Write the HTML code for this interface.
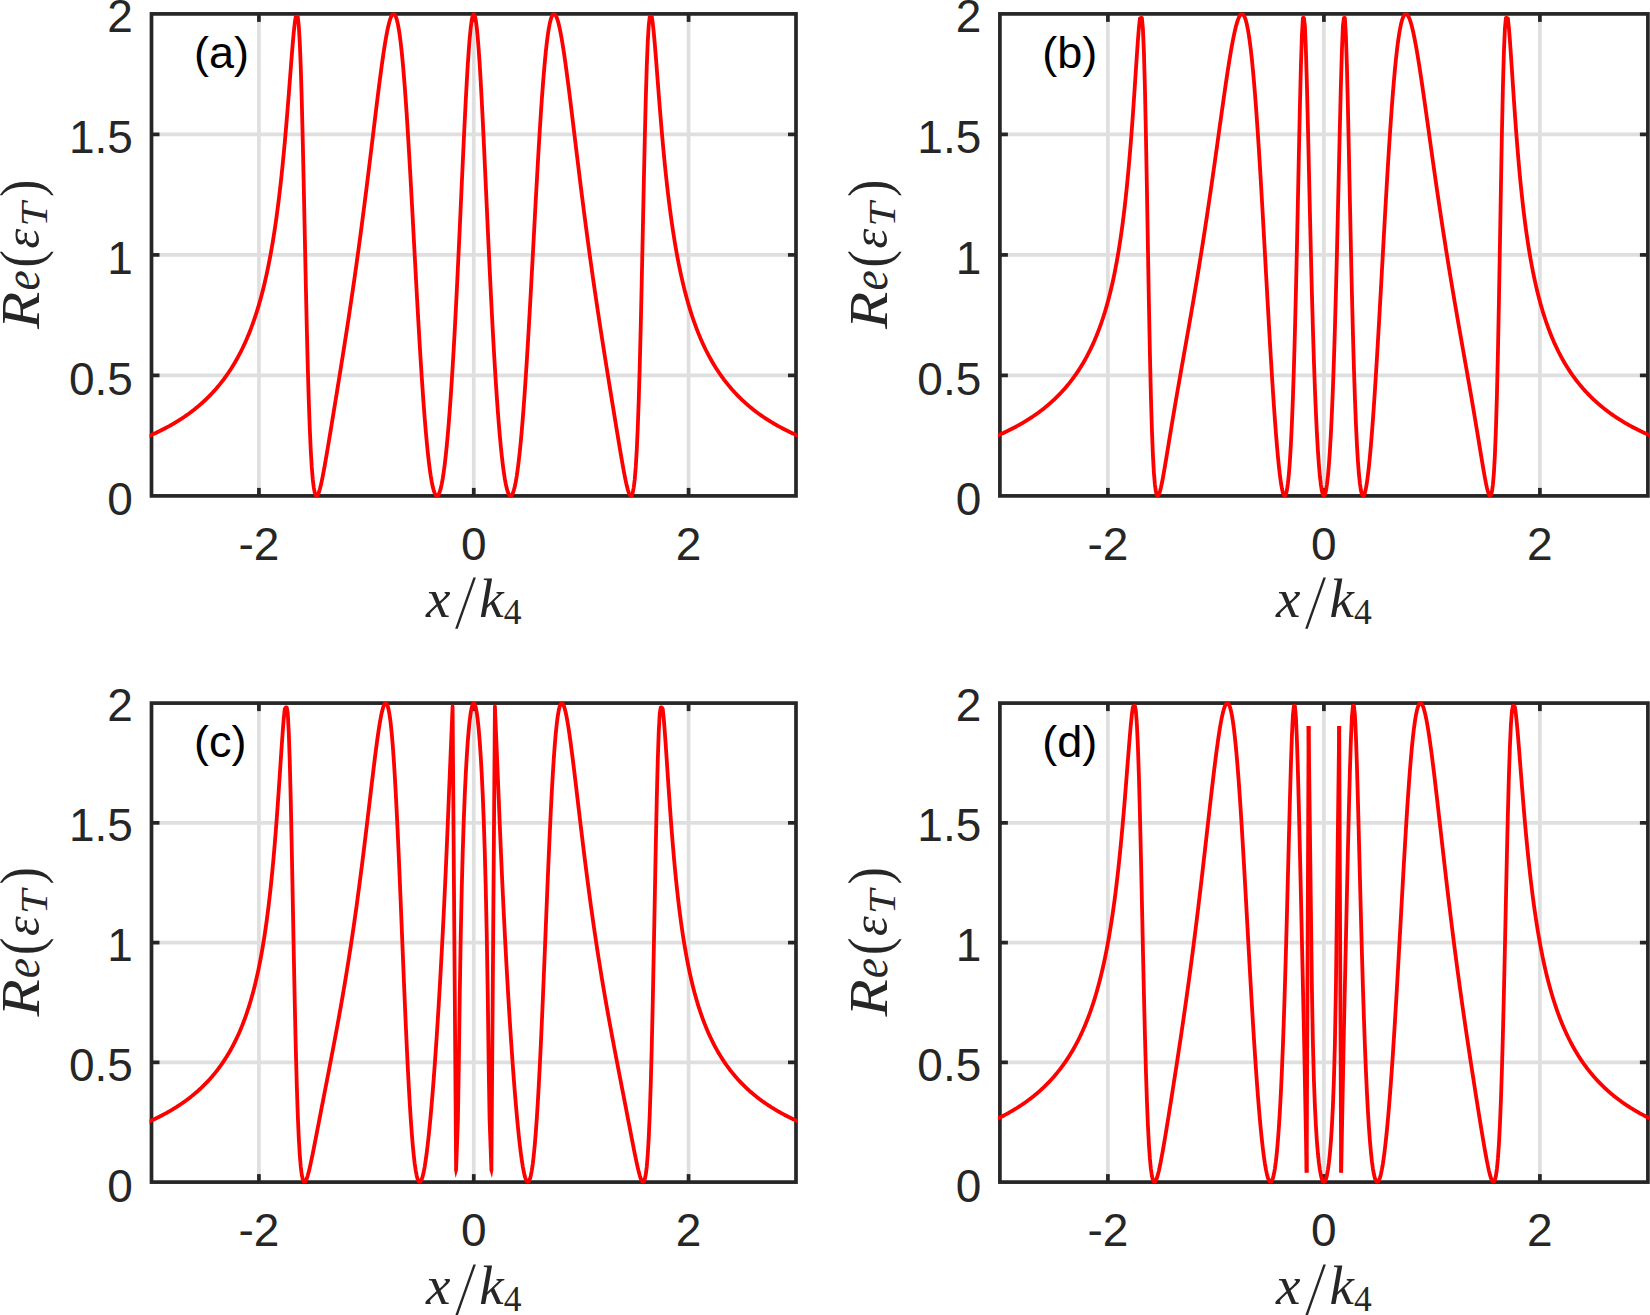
<!DOCTYPE html><html><head><meta charset="utf-8"><title>Figure</title><style>
html,body{margin:0;padding:0;background:#fff}
svg{display:block}
.grid{stroke:#dfdfdf;stroke-width:3.7;fill:none}
.ax{stroke:#262626;stroke-width:3.7;fill:none}
.box{stroke:#262626;stroke-width:3.7;fill:none}
.curve{stroke:#ff0000;stroke-width:3.8;fill:none;stroke-linejoin:round;stroke-linecap:butt}
.nib{fill:#ff0000;stroke:none}
.tk{font-family:"Liberation Sans",sans-serif;font-size:46px;fill:#262626}
.pl{font-family:"Liberation Sans",sans-serif;font-size:45px;fill:#000}
.mi{font-family:"Liberation Serif",serif;font-style:italic;font-size:55px;fill:#262626}
.mr{font-family:"Liberation Serif",serif;font-size:52px;fill:#262626}
</style></head><body>
<svg width="1650" height="1315" viewBox="0 0 1650 1315">
<rect width="1650" height="1315" fill="#fff"/>
<g id="panel-a">
<line x1="258.92" y1="13.90" x2="258.92" y2="495.90" class="grid"/>
<line x1="473.75" y1="13.90" x2="473.75" y2="495.90" class="grid"/>
<line x1="688.58" y1="13.90" x2="688.58" y2="495.90" class="grid"/>
<line x1="151.50" y1="375.40" x2="796.00" y2="375.40" class="grid"/>
<line x1="151.50" y1="254.90" x2="796.00" y2="254.90" class="grid"/>
<line x1="151.50" y1="134.40" x2="796.00" y2="134.40" class="grid"/>
<line x1="258.92" y1="495.90" x2="258.92" y2="487.90" class="ax"/>
<line x1="258.92" y1="13.90" x2="258.92" y2="21.90" class="ax"/>
<line x1="473.75" y1="495.90" x2="473.75" y2="487.90" class="ax"/>
<line x1="473.75" y1="13.90" x2="473.75" y2="21.90" class="ax"/>
<line x1="688.58" y1="495.90" x2="688.58" y2="487.90" class="ax"/>
<line x1="688.58" y1="13.90" x2="688.58" y2="21.90" class="ax"/>
<line x1="151.50" y1="375.40" x2="159.50" y2="375.40" class="ax"/>
<line x1="796.00" y1="375.40" x2="788.00" y2="375.40" class="ax"/>
<line x1="151.50" y1="254.90" x2="159.50" y2="254.90" class="ax"/>
<line x1="796.00" y1="254.90" x2="788.00" y2="254.90" class="ax"/>
<line x1="151.50" y1="134.40" x2="159.50" y2="134.40" class="ax"/>
<line x1="796.00" y1="134.40" x2="788.00" y2="134.40" class="ax"/>
<rect x="151.50" y="13.90" width="644.50" height="482.00" class="box"/>
<clipPath id="clipa"><rect x="149.50" y="12.40" width="648.50" height="485.00"/></clipPath>
<g clip-path="url(#clipa)">
<polyline points="147.75,436.53 148.75,436.10 149.75,435.66 150.75,435.23 151.75,434.78 152.75,434.33 153.75,433.88 154.75,433.42 155.75,432.96 156.75,432.48 157.75,432.01 158.75,431.53 159.75,431.04 160.75,430.54 161.75,430.04 162.75,429.54 163.75,429.02 164.75,428.50 165.75,427.98 166.75,427.44 167.75,426.90 168.75,426.36 169.75,425.80 170.75,425.24 171.75,424.67 172.75,424.10 173.75,423.51 174.75,422.92 175.75,422.32 176.75,421.71 177.75,421.10 178.75,420.47 179.75,419.84 180.75,419.19 181.75,418.54 182.75,417.88 183.75,417.21 184.75,416.53 185.75,415.84 186.75,415.14 187.75,414.43 188.75,413.71 189.75,412.98 190.75,412.23 191.75,411.48 192.75,410.71 193.75,409.94 194.75,409.15 195.75,408.34 196.75,407.53 197.75,406.70 198.75,405.86 199.75,405.01 200.75,404.14 201.75,403.25 202.75,402.36 203.75,401.44 204.75,400.51 205.75,399.57 206.75,398.61 207.75,397.63 208.75,396.64 209.75,395.63 210.75,394.60 211.75,393.55 212.75,392.48 213.75,391.39 214.75,390.28 215.75,389.16 216.75,388.01 217.75,386.83 218.75,385.64 219.75,384.42 220.75,383.18 221.75,381.91 222.75,380.62 223.75,379.30 224.75,377.95 225.75,376.57 226.75,375.17 227.75,373.73 228.75,372.27 229.75,370.77 230.75,369.23 231.75,367.67 232.75,366.06 233.75,364.42 234.75,362.74 235.75,361.02 236.75,359.26 237.75,357.46 238.75,355.61 239.75,353.71 240.75,351.76 241.75,349.76 242.75,347.71 243.75,345.61 244.75,343.45 245.75,341.22 246.75,338.94 247.75,336.58 248.75,334.16 249.75,331.67 250.75,329.10 251.75,326.45 252.75,323.72 253.75,320.90 254.75,317.98 255.75,314.97 256.75,311.86 257.75,308.64 258.75,305.31 259.75,301.85 260.75,298.27 261.75,294.55 262.75,290.69 263.75,286.68 264.75,282.51 265.75,278.17 266.75,273.64 267.75,268.92 268.75,264.00 269.75,258.85 270.75,253.48 271.75,247.85 272.75,241.95 273.75,235.77 274.75,229.28 275.75,222.46 276.75,215.30 277.75,207.76 278.75,199.83 279.75,191.47 280.75,182.67 281.75,173.40 282.75,163.64 283.75,153.37 284.75,142.58 285.75,131.28 286.75,119.47 287.75,107.20 288.75,94.53 289.75,81.60 290.75,68.59 291.75,55.76 292.75,43.52 293.75,32.39 294.75,23.10 295.75,16.57 296.75,16.55 297.75,16.55 298.75,25.37 299.75,41.94 300.75,66.81 301.75,99.90 302.75,140.18 303.75,185.64 304.75,233.61 305.75,281.21 306.75,325.92 307.75,365.87 308.75,400.01 309.75,428.03 310.75,450.16 311.75,466.96 312.75,479.16 313.75,487.49 314.75,492.66 315.75,495.28 316.75,495.88 317.75,494.89 318.75,492.66 319.75,489.47 320.75,485.54 321.75,481.04 322.75,476.11 323.75,470.86 324.75,465.36 325.75,459.68 326.75,453.86 327.75,447.95 328.75,441.97 329.75,435.93 330.75,429.86 331.75,423.77 332.75,417.66 333.75,411.53 334.75,405.39 335.75,399.25 336.75,393.08 337.75,386.91 338.75,380.72 339.75,374.51 340.75,368.28 341.75,362.02 342.75,355.73 343.75,349.41 344.75,343.05 345.75,336.64 346.75,330.19 347.75,323.69 348.75,317.13 349.75,310.51 350.75,303.83 351.75,297.08 352.75,290.26 353.75,283.37 354.75,276.40 355.75,269.35 356.75,262.22 357.75,255.00 358.75,247.70 359.75,240.31 360.75,232.84 361.75,225.27 362.75,217.62 363.75,209.88 364.75,202.07 365.75,194.17 366.75,186.19 367.75,178.15 368.75,170.04 369.75,161.88 370.75,153.67 371.75,145.43 372.75,137.18 373.75,128.91 374.75,120.67 375.75,112.46 376.75,104.31 377.75,96.24 378.75,88.29 379.75,80.49 380.75,72.88 381.75,65.49 382.75,58.37 383.75,51.56 384.75,45.13 385.75,39.12 386.75,33.59 387.75,28.61 388.75,24.23 389.75,20.54 390.75,17.59 391.75,15.46 392.75,14.21 393.75,13.92 394.75,14.64 395.75,16.45 396.75,19.38 397.75,23.49 398.75,28.82 399.75,35.38 400.75,43.20 401.75,52.27 402.75,62.57 403.75,74.08 404.75,86.74 405.75,100.48 406.75,115.24 407.75,130.91 408.75,147.39 409.75,164.56 410.75,182.29 411.75,200.45 412.75,218.91 413.75,237.53 414.75,256.17 415.75,274.70 416.75,293.00 417.75,310.95 418.75,328.43 419.75,345.36 420.75,361.63 421.75,377.17 422.75,391.91 423.75,405.80 424.75,418.78 425.75,430.82 426.75,441.88 427.75,451.94 428.75,460.98 429.75,468.99 430.75,475.96 431.75,481.89 432.75,486.78 433.75,490.62 434.75,493.41 435.75,495.17 436.75,495.88 437.75,495.56 438.75,494.20 439.75,491.80 440.75,488.37 441.75,483.90 442.75,478.38 443.75,471.82 444.75,464.21 445.75,455.54 446.75,445.81 447.75,435.02 448.75,423.15 449.75,410.23 450.75,396.25 451.75,381.21 452.75,365.15 453.75,348.10 454.75,330.08 455.75,311.16 456.75,291.42 457.75,270.94 458.75,249.85 459.75,228.29 460.75,206.43 461.75,184.46 462.75,162.63 463.75,141.18 464.75,120.41 465.75,100.61 466.75,82.11 467.75,65.23 468.75,50.29 469.75,37.60 470.75,27.41 471.75,19.96 472.75,15.43 473.75,13.90 474.75,15.43 475.75,19.96 476.75,27.41 477.75,37.60 478.75,50.29 479.75,65.23 480.75,82.11 481.75,100.61 482.75,120.41 483.75,141.18 484.75,162.63 485.75,184.46 486.75,206.43 487.75,228.29 488.75,249.85 489.75,270.94 490.75,291.42 491.75,311.16 492.75,330.08 493.75,348.10 494.75,365.15 495.75,381.21 496.75,396.25 497.75,410.23 498.75,423.15 499.75,435.02 500.75,445.81 501.75,455.54 502.75,464.21 503.75,471.82 504.75,478.38 505.75,483.90 506.75,488.37 507.75,491.80 508.75,494.20 509.75,495.56 510.75,495.88 511.75,495.17 512.75,493.41 513.75,490.62 514.75,486.78 515.75,481.89 516.75,475.96 517.75,468.99 518.75,460.98 519.75,451.94 520.75,441.88 521.75,430.82 522.75,418.78 523.75,405.80 524.75,391.91 525.75,377.17 526.75,361.63 527.75,345.36 528.75,328.43 529.75,310.95 530.75,293.00 531.75,274.70 532.75,256.17 533.75,237.53 534.75,218.91 535.75,200.45 536.75,182.29 537.75,164.56 538.75,147.39 539.75,130.91 540.75,115.24 541.75,100.48 542.75,86.74 543.75,74.08 544.75,62.57 545.75,52.27 546.75,43.20 547.75,35.38 548.75,28.82 549.75,23.49 550.75,19.38 551.75,16.45 552.75,14.64 553.75,13.92 554.75,14.21 555.75,15.46 556.75,17.59 557.75,20.54 558.75,24.23 559.75,28.61 560.75,33.59 561.75,39.12 562.75,45.13 563.75,51.56 564.75,58.37 565.75,65.49 566.75,72.88 567.75,80.49 568.75,88.29 569.75,96.24 570.75,104.31 571.75,112.46 572.75,120.67 573.75,128.91 574.75,137.18 575.75,145.43 576.75,153.67 577.75,161.88 578.75,170.04 579.75,178.15 580.75,186.19 581.75,194.17 582.75,202.07 583.75,209.88 584.75,217.62 585.75,225.27 586.75,232.84 587.75,240.31 588.75,247.70 589.75,255.00 590.75,262.22 591.75,269.35 592.75,276.40 593.75,283.37 594.75,290.26 595.75,297.08 596.75,303.83 597.75,310.51 598.75,317.13 599.75,323.69 600.75,330.19 601.75,336.64 602.75,343.05 603.75,349.41 604.75,355.73 605.75,362.02 606.75,368.28 607.75,374.51 608.75,380.72 609.75,386.91 610.75,393.08 611.75,399.25 612.75,405.39 613.75,411.53 614.75,417.66 615.75,423.77 616.75,429.86 617.75,435.93 618.75,441.97 619.75,447.95 620.75,453.86 621.75,459.68 622.75,465.36 623.75,470.86 624.75,476.11 625.75,481.04 626.75,485.54 627.75,489.47 628.75,492.66 629.75,494.89 630.75,495.88 631.75,495.28 632.75,492.66 633.75,487.49 634.75,479.16 635.75,466.96 636.75,450.16 637.75,428.03 638.75,400.01 639.75,365.87 640.75,325.92 641.75,281.21 642.75,233.61 643.75,185.64 644.75,140.18 645.75,99.90 646.75,66.81 647.75,41.94 648.75,25.37 649.75,16.55 650.75,16.55 651.75,16.57 652.75,23.10 653.75,32.39 654.75,43.52 655.75,55.76 656.75,68.59 657.75,81.60 658.75,94.53 659.75,107.20 660.75,119.47 661.75,131.28 662.75,142.58 663.75,153.37 664.75,163.64 665.75,173.40 666.75,182.67 667.75,191.47 668.75,199.83 669.75,207.76 670.75,215.30 671.75,222.46 672.75,229.28 673.75,235.77 674.75,241.95 675.75,247.85 676.75,253.48 677.75,258.85 678.75,264.00 679.75,268.92 680.75,273.64 681.75,278.17 682.75,282.51 683.75,286.68 684.75,290.69 685.75,294.55 686.75,298.27 687.75,301.85 688.75,305.31 689.75,308.64 690.75,311.86 691.75,314.97 692.75,317.98 693.75,320.90 694.75,323.72 695.75,326.45 696.75,329.10 697.75,331.67 698.75,334.16 699.75,336.58 700.75,338.94 701.75,341.22 702.75,343.45 703.75,345.61 704.75,347.71 705.75,349.76 706.75,351.76 707.75,353.71 708.75,355.61 709.75,357.46 710.75,359.26 711.75,361.02 712.75,362.74 713.75,364.42 714.75,366.06 715.75,367.67 716.75,369.23 717.75,370.77 718.75,372.27 719.75,373.73 720.75,375.17 721.75,376.57 722.75,377.95 723.75,379.30 724.75,380.62 725.75,381.91 726.75,383.18 727.75,384.42 728.75,385.64 729.75,386.83 730.75,388.01 731.75,389.16 732.75,390.28 733.75,391.39 734.75,392.48 735.75,393.55 736.75,394.60 737.75,395.63 738.75,396.64 739.75,397.63 740.75,398.61 741.75,399.57 742.75,400.51 743.75,401.44 744.75,402.36 745.75,403.25 746.75,404.14 747.75,405.01 748.75,405.86 749.75,406.70 750.75,407.53 751.75,408.34 752.75,409.15 753.75,409.94 754.75,410.71 755.75,411.48 756.75,412.23 757.75,412.98 758.75,413.71 759.75,414.43 760.75,415.14 761.75,415.84 762.75,416.53 763.75,417.21 764.75,417.88 765.75,418.54 766.75,419.19 767.75,419.84 768.75,420.47 769.75,421.10 770.75,421.71 771.75,422.32 772.75,422.92 773.75,423.51 774.75,424.10 775.75,424.67 776.75,425.24 777.75,425.80 778.75,426.36 779.75,426.90 780.75,427.44 781.75,427.98 782.75,428.50 783.75,429.02 784.75,429.54 785.75,430.04 786.75,430.54 787.75,431.04 788.75,431.53 789.75,432.01 790.75,432.48 791.75,432.96 792.75,433.42 793.75,433.88 794.75,434.33 795.75,434.78 796.75,435.23 797.75,435.66 798.75,436.10 799.75,436.53" class="curve"/>
</g>
<text x="258.92" y="560.20" class="tk" text-anchor="middle">-2</text>
<text x="473.75" y="560.20" class="tk" text-anchor="middle">0</text>
<text x="688.58" y="560.20" class="tk" text-anchor="middle">2</text>
<text x="132.90" y="515.40" class="tk" text-anchor="end">0</text>
<text x="132.90" y="394.50" class="tk" text-anchor="end">0.5</text>
<text x="132.90" y="273.60" class="tk" text-anchor="end">1</text>
<text x="132.90" y="152.70" class="tk" text-anchor="end">1.5</text>
<text x="132.90" y="31.80" class="tk" text-anchor="end">2</text>
<text x="193.90" y="67.50" class="pl">(a)</text>
<text x="425.95" y="617.30" class="mi">x</text>
<text transform="translate(455.15,628.40) skewX(-7) scale(1,1.476)" class="mr">/</text>
<text x="479.25" y="617.30" class="mi">k</text>
<text x="503.75" y="624.30" class="mr" style="font-size:35.5px">4</text>
<g transform="translate(39.00,254.90) rotate(-90)"><text transform="translate(-74,0) scale(1.11,1)" class="mi">R</text><text transform="translate(-35.7,0) scale(0.9,1)" class="mi" style="font-size:50.5px">e</text><text transform="translate(-12.5,1.5) scale(1,1.15)" class="mr">(</text><text x="6.5" y="0" class="mi" style="font-size:50px">ε</text><text transform="translate(28.5,8) scale(1.17,1.03)" class="mi" style="font-size:37px">T</text><text transform="translate(58,1.5) scale(1,1.15)" class="mr">)</text></g>
</g>
<g id="panel-b">
<line x1="1107.90" y1="13.90" x2="1107.90" y2="495.90" class="grid"/>
<line x1="1323.90" y1="13.90" x2="1323.90" y2="495.90" class="grid"/>
<line x1="1539.90" y1="13.90" x2="1539.90" y2="495.90" class="grid"/>
<line x1="999.90" y1="375.40" x2="1647.90" y2="375.40" class="grid"/>
<line x1="999.90" y1="254.90" x2="1647.90" y2="254.90" class="grid"/>
<line x1="999.90" y1="134.40" x2="1647.90" y2="134.40" class="grid"/>
<line x1="1107.90" y1="495.90" x2="1107.90" y2="487.90" class="ax"/>
<line x1="1107.90" y1="13.90" x2="1107.90" y2="21.90" class="ax"/>
<line x1="1323.90" y1="495.90" x2="1323.90" y2="487.90" class="ax"/>
<line x1="1323.90" y1="13.90" x2="1323.90" y2="21.90" class="ax"/>
<line x1="1539.90" y1="495.90" x2="1539.90" y2="487.90" class="ax"/>
<line x1="1539.90" y1="13.90" x2="1539.90" y2="21.90" class="ax"/>
<line x1="999.90" y1="375.40" x2="1007.90" y2="375.40" class="ax"/>
<line x1="1647.90" y1="375.40" x2="1639.90" y2="375.40" class="ax"/>
<line x1="999.90" y1="254.90" x2="1007.90" y2="254.90" class="ax"/>
<line x1="1647.90" y1="254.90" x2="1639.90" y2="254.90" class="ax"/>
<line x1="999.90" y1="134.40" x2="1007.90" y2="134.40" class="ax"/>
<line x1="1647.90" y1="134.40" x2="1639.90" y2="134.40" class="ax"/>
<rect x="999.90" y="13.90" width="648.00" height="482.00" class="box"/>
<clipPath id="clipb"><rect x="997.90" y="12.40" width="652.00" height="485.00"/></clipPath>
<g clip-path="url(#clipb)">
<polyline points="995.90,436.22 996.90,435.79 997.90,435.37 998.90,434.93 999.90,434.49 1000.90,434.05 1001.90,433.60 1002.90,433.15 1003.90,432.69 1004.90,432.22 1005.90,431.75 1006.90,431.27 1007.90,430.79 1008.90,430.30 1009.90,429.81 1010.90,429.31 1011.90,428.80 1012.90,428.28 1013.90,427.77 1014.90,427.24 1015.90,426.71 1016.90,426.17 1017.90,425.62 1018.90,425.06 1019.90,424.50 1020.90,423.93 1021.90,423.36 1022.90,422.77 1023.90,422.18 1024.90,421.58 1025.90,420.97 1026.90,420.36 1027.90,419.73 1028.90,419.10 1029.90,418.46 1030.90,417.81 1031.90,417.14 1032.90,416.47 1033.90,415.79 1034.90,415.11 1035.90,414.41 1036.90,413.69 1037.90,412.97 1038.90,412.24 1039.90,411.50 1040.90,410.75 1041.90,409.98 1042.90,409.20 1043.90,408.41 1044.90,407.61 1045.90,406.80 1046.90,405.97 1047.90,405.13 1048.90,404.27 1049.90,403.40 1050.90,402.52 1051.90,401.62 1052.90,400.71 1053.90,399.78 1054.90,398.83 1055.90,397.87 1056.90,396.89 1057.90,395.90 1058.90,394.88 1059.90,393.85 1060.90,392.80 1061.90,391.73 1062.90,390.64 1063.90,389.53 1064.90,388.39 1065.90,387.24 1066.90,386.06 1067.90,384.86 1068.90,383.64 1069.90,382.39 1070.90,381.11 1071.90,379.81 1072.90,378.48 1073.90,377.12 1074.90,375.73 1075.90,374.31 1076.90,372.86 1077.90,371.38 1078.90,369.86 1079.90,368.31 1080.90,366.72 1081.90,365.09 1082.90,363.42 1083.90,361.71 1084.90,359.96 1085.90,358.16 1086.90,356.32 1087.90,354.42 1088.90,352.48 1089.90,350.48 1090.90,348.43 1091.90,346.32 1092.90,344.14 1093.90,341.91 1094.90,339.60 1095.90,337.22 1096.90,334.77 1097.90,332.24 1098.90,329.63 1099.90,326.93 1100.90,324.14 1101.90,321.25 1102.90,318.26 1103.90,315.16 1104.90,311.94 1105.90,308.59 1106.90,305.12 1107.90,301.51 1108.90,297.74 1109.90,293.82 1110.90,289.72 1111.90,285.45 1112.90,280.97 1113.90,276.29 1114.90,271.38 1115.90,266.22 1116.90,260.80 1117.90,255.10 1118.90,249.08 1119.90,242.74 1120.90,236.03 1121.90,228.93 1122.90,221.40 1123.90,213.41 1124.90,204.92 1125.90,195.89 1126.90,186.28 1127.90,176.03 1128.90,165.13 1129.90,153.51 1130.90,141.17 1131.90,128.08 1132.90,114.28 1133.90,99.82 1134.90,84.86 1135.90,69.64 1136.90,54.59 1137.90,40.34 1138.90,27.86 1139.90,18.49 1140.90,18.00 1141.90,18.00 1142.90,28.59 1143.90,51.87 1144.90,87.29 1145.90,133.84 1146.90,188.40 1147.90,246.34 1148.90,302.67 1149.90,353.34 1150.90,395.92 1151.90,429.63 1152.90,454.90 1153.90,472.81 1154.90,484.68 1155.90,491.76 1156.90,495.18 1157.90,495.85 1158.90,494.48 1159.90,491.62 1160.90,487.69 1161.90,483.00 1162.90,477.78 1163.90,472.19 1164.90,466.37 1165.90,460.39 1166.90,454.33 1167.90,448.24 1168.90,442.13 1169.90,436.04 1170.90,429.98 1171.90,423.96 1172.90,417.99 1173.90,412.06 1174.90,406.17 1175.90,400.33 1176.90,394.53 1177.90,388.77 1178.90,383.03 1179.90,377.33 1180.90,371.64 1181.90,365.97 1182.90,360.31 1183.90,354.66 1184.90,349.01 1185.90,343.35 1186.90,337.69 1187.90,332.01 1188.90,326.31 1189.90,320.58 1190.90,314.83 1191.90,309.05 1192.90,303.23 1193.90,297.37 1194.90,291.47 1195.90,285.52 1196.90,279.52 1197.90,273.46 1198.90,267.36 1199.90,261.19 1200.90,254.96 1201.90,248.68 1202.90,242.33 1203.90,235.91 1204.90,229.43 1205.90,222.88 1206.90,216.26 1207.90,209.58 1208.90,202.84 1209.90,196.03 1210.90,189.16 1211.90,182.24 1212.90,175.25 1213.90,168.22 1214.90,161.15 1215.90,154.03 1216.90,146.89 1217.90,139.72 1218.90,132.54 1219.90,125.36 1220.90,118.20 1221.90,111.05 1222.90,103.95 1223.90,96.92 1224.90,89.96 1225.90,83.10 1226.90,76.37 1227.90,69.79 1228.90,63.39 1229.90,57.20 1230.90,51.26 1231.90,45.60 1232.90,40.26 1233.90,35.28 1234.90,30.70 1235.90,26.57 1236.90,22.93 1237.90,19.84 1238.90,17.34 1239.90,15.48 1240.90,14.32 1241.90,13.90 1242.90,14.27 1243.90,15.48 1244.90,17.58 1245.90,20.59 1246.90,24.57 1247.90,29.54 1248.90,35.51 1249.90,42.52 1250.90,50.56 1251.90,59.63 1252.90,69.73 1253.90,80.83 1254.90,92.90 1255.90,105.89 1256.90,119.76 1257.90,134.45 1258.90,149.87 1259.90,165.95 1260.90,182.61 1261.90,199.75 1262.90,217.26 1263.90,235.06 1264.90,253.04 1265.90,271.08 1266.90,289.09 1267.90,306.95 1268.90,324.57 1269.90,341.85 1270.90,358.69 1271.90,374.99 1272.90,390.65 1273.90,405.60 1274.90,419.74 1275.90,432.99 1276.90,445.26 1277.90,456.45 1278.90,466.48 1279.90,475.25 1280.90,482.64 1281.90,488.54 1282.90,492.81 1283.90,495.30 1284.90,495.84 1285.90,494.21 1286.90,490.19 1287.90,483.50 1288.90,473.82 1289.90,460.82 1290.90,444.10 1291.90,423.27 1292.90,397.93 1293.90,367.79 1294.90,332.67 1295.90,292.69 1296.90,248.45 1297.90,201.19 1298.90,152.99 1299.90,106.84 1300.90,66.42 1301.90,35.62 1302.90,18.00 1303.90,18.00 1304.90,26.09 1305.90,50.51 1306.90,84.71 1307.90,125.14 1308.90,168.52 1309.90,212.15 1310.90,254.13 1311.90,293.25 1312.90,328.82 1313.90,360.57 1314.90,388.47 1315.90,412.65 1316.90,433.30 1317.90,450.65 1318.90,464.92 1319.90,476.30 1320.90,484.98 1321.90,491.08 1322.90,494.70 1323.90,495.90 1324.90,494.70 1325.90,491.08 1326.90,484.98 1327.90,476.30 1328.90,464.92 1329.90,450.65 1330.90,433.30 1331.90,412.65 1332.90,388.47 1333.90,360.57 1334.90,328.82 1335.90,293.25 1336.90,254.13 1337.90,212.15 1338.90,168.52 1339.90,125.14 1340.90,84.71 1341.90,50.51 1342.90,26.09 1343.90,18.00 1344.90,18.00 1345.90,35.62 1346.90,66.42 1347.90,106.84 1348.90,152.99 1349.90,201.19 1350.90,248.45 1351.90,292.69 1352.90,332.67 1353.90,367.79 1354.90,397.93 1355.90,423.27 1356.90,444.10 1357.90,460.82 1358.90,473.82 1359.90,483.50 1360.90,490.19 1361.90,494.21 1362.90,495.84 1363.90,495.30 1364.90,492.81 1365.90,488.54 1366.90,482.64 1367.90,475.25 1368.90,466.48 1369.90,456.45 1370.90,445.26 1371.90,432.99 1372.90,419.74 1373.90,405.60 1374.90,390.65 1375.90,374.99 1376.90,358.69 1377.90,341.85 1378.90,324.57 1379.90,306.95 1380.90,289.09 1381.90,271.08 1382.90,253.04 1383.90,235.06 1384.90,217.26 1385.90,199.75 1386.90,182.61 1387.90,165.95 1388.90,149.87 1389.90,134.45 1390.90,119.76 1391.90,105.89 1392.90,92.90 1393.90,80.83 1394.90,69.73 1395.90,59.63 1396.90,50.56 1397.90,42.52 1398.90,35.51 1399.90,29.54 1400.90,24.57 1401.90,20.59 1402.90,17.58 1403.90,15.48 1404.90,14.27 1405.90,13.90 1406.90,14.32 1407.90,15.48 1408.90,17.34 1409.90,19.84 1410.90,22.93 1411.90,26.57 1412.90,30.70 1413.90,35.28 1414.90,40.26 1415.90,45.60 1416.90,51.26 1417.90,57.20 1418.90,63.39 1419.90,69.79 1420.90,76.37 1421.90,83.10 1422.90,89.96 1423.90,96.92 1424.90,103.95 1425.90,111.05 1426.90,118.20 1427.90,125.36 1428.90,132.54 1429.90,139.72 1430.90,146.89 1431.90,154.03 1432.90,161.15 1433.90,168.22 1434.90,175.25 1435.90,182.24 1436.90,189.16 1437.90,196.03 1438.90,202.84 1439.90,209.58 1440.90,216.26 1441.90,222.88 1442.90,229.43 1443.90,235.91 1444.90,242.33 1445.90,248.68 1446.90,254.96 1447.90,261.19 1448.90,267.36 1449.90,273.46 1450.90,279.52 1451.90,285.52 1452.90,291.47 1453.90,297.37 1454.90,303.23 1455.90,309.05 1456.90,314.83 1457.90,320.58 1458.90,326.31 1459.90,332.01 1460.90,337.69 1461.90,343.35 1462.90,349.01 1463.90,354.66 1464.90,360.31 1465.90,365.97 1466.90,371.64 1467.90,377.33 1468.90,383.03 1469.90,388.77 1470.90,394.53 1471.90,400.33 1472.90,406.17 1473.90,412.06 1474.90,417.99 1475.90,423.96 1476.90,429.98 1477.90,436.04 1478.90,442.13 1479.90,448.24 1480.90,454.33 1481.90,460.39 1482.90,466.37 1483.90,472.19 1484.90,477.78 1485.90,483.00 1486.90,487.69 1487.90,491.62 1488.90,494.48 1489.90,495.85 1490.90,495.18 1491.90,491.76 1492.90,484.68 1493.90,472.81 1494.90,454.90 1495.90,429.63 1496.90,395.92 1497.90,353.34 1498.90,302.67 1499.90,246.34 1500.90,188.40 1501.90,133.84 1502.90,87.29 1503.90,51.87 1504.90,28.59 1505.90,18.00 1506.90,18.00 1507.90,18.49 1508.90,27.86 1509.90,40.34 1510.90,54.59 1511.90,69.64 1512.90,84.86 1513.90,99.82 1514.90,114.28 1515.90,128.08 1516.90,141.17 1517.90,153.51 1518.90,165.13 1519.90,176.03 1520.90,186.28 1521.90,195.89 1522.90,204.92 1523.90,213.41 1524.90,221.40 1525.90,228.93 1526.90,236.03 1527.90,242.74 1528.90,249.08 1529.90,255.10 1530.90,260.80 1531.90,266.22 1532.90,271.38 1533.90,276.29 1534.90,280.97 1535.90,285.45 1536.90,289.72 1537.90,293.82 1538.90,297.74 1539.90,301.51 1540.90,305.12 1541.90,308.59 1542.90,311.94 1543.90,315.16 1544.90,318.26 1545.90,321.25 1546.90,324.14 1547.90,326.93 1548.90,329.63 1549.90,332.24 1550.90,334.77 1551.90,337.22 1552.90,339.60 1553.90,341.91 1554.90,344.14 1555.90,346.32 1556.90,348.43 1557.90,350.48 1558.90,352.48 1559.90,354.42 1560.90,356.32 1561.90,358.16 1562.90,359.96 1563.90,361.71 1564.90,363.42 1565.90,365.09 1566.90,366.72 1567.90,368.31 1568.90,369.86 1569.90,371.38 1570.90,372.86 1571.90,374.31 1572.90,375.73 1573.90,377.12 1574.90,378.48 1575.90,379.81 1576.90,381.11 1577.90,382.39 1578.90,383.64 1579.90,384.86 1580.90,386.06 1581.90,387.24 1582.90,388.39 1583.90,389.53 1584.90,390.64 1585.90,391.73 1586.90,392.80 1587.90,393.85 1588.90,394.88 1589.90,395.90 1590.90,396.89 1591.90,397.87 1592.90,398.83 1593.90,399.78 1594.90,400.71 1595.90,401.62 1596.90,402.52 1597.90,403.40 1598.90,404.27 1599.90,405.13 1600.90,405.97 1601.90,406.80 1602.90,407.61 1603.90,408.41 1604.90,409.20 1605.90,409.98 1606.90,410.75 1607.90,411.50 1608.90,412.24 1609.90,412.97 1610.90,413.69 1611.90,414.41 1612.90,415.11 1613.90,415.79 1614.90,416.47 1615.90,417.14 1616.90,417.81 1617.90,418.46 1618.90,419.10 1619.90,419.73 1620.90,420.36 1621.90,420.97 1622.90,421.58 1623.90,422.18 1624.90,422.77 1625.90,423.36 1626.90,423.93 1627.90,424.50 1628.90,425.06 1629.90,425.62 1630.90,426.17 1631.90,426.71 1632.90,427.24 1633.90,427.77 1634.90,428.28 1635.90,428.80 1636.90,429.31 1637.90,429.81 1638.90,430.30 1639.90,430.79 1640.90,431.27 1641.90,431.75 1642.90,432.22 1643.90,432.69 1644.90,433.15 1645.90,433.60 1646.90,434.05 1647.90,434.49 1648.90,434.93 1649.90,435.37 1650.90,435.79 1651.90,436.22" class="curve"/>
</g>
<text x="1107.90" y="560.20" class="tk" text-anchor="middle">-2</text>
<text x="1323.90" y="560.20" class="tk" text-anchor="middle">0</text>
<text x="1539.90" y="560.20" class="tk" text-anchor="middle">2</text>
<text x="981.30" y="515.40" class="tk" text-anchor="end">0</text>
<text x="981.30" y="394.50" class="tk" text-anchor="end">0.5</text>
<text x="981.30" y="273.60" class="tk" text-anchor="end">1</text>
<text x="981.30" y="152.70" class="tk" text-anchor="end">1.5</text>
<text x="981.30" y="31.80" class="tk" text-anchor="end">2</text>
<text x="1042.30" y="67.50" class="pl">(b)</text>
<text x="1276.10" y="617.30" class="mi">x</text>
<text transform="translate(1305.30,628.40) skewX(-7) scale(1,1.476)" class="mr">/</text>
<text x="1329.40" y="617.30" class="mi">k</text>
<text x="1353.90" y="624.30" class="mr" style="font-size:35.5px">4</text>
<g transform="translate(887.40,254.90) rotate(-90)"><text transform="translate(-74,0) scale(1.11,1)" class="mi">R</text><text transform="translate(-35.7,0) scale(0.9,1)" class="mi" style="font-size:50.5px">e</text><text transform="translate(-12.5,1.5) scale(1,1.15)" class="mr">(</text><text x="6.5" y="0" class="mi" style="font-size:50px">ε</text><text transform="translate(28.5,8) scale(1.17,1.03)" class="mi" style="font-size:37px">T</text><text transform="translate(58,1.5) scale(1,1.15)" class="mr">)</text></g>
</g>
<g id="panel-c">
<line x1="258.92" y1="703.10" x2="258.92" y2="1182.10" class="grid"/>
<line x1="473.75" y1="703.10" x2="473.75" y2="1182.10" class="grid"/>
<line x1="688.58" y1="703.10" x2="688.58" y2="1182.10" class="grid"/>
<line x1="151.50" y1="1062.35" x2="796.00" y2="1062.35" class="grid"/>
<line x1="151.50" y1="942.60" x2="796.00" y2="942.60" class="grid"/>
<line x1="151.50" y1="822.85" x2="796.00" y2="822.85" class="grid"/>
<line x1="258.92" y1="1182.10" x2="258.92" y2="1174.10" class="ax"/>
<line x1="258.92" y1="703.10" x2="258.92" y2="711.10" class="ax"/>
<line x1="473.75" y1="1182.10" x2="473.75" y2="1174.10" class="ax"/>
<line x1="473.75" y1="703.10" x2="473.75" y2="711.10" class="ax"/>
<line x1="688.58" y1="1182.10" x2="688.58" y2="1174.10" class="ax"/>
<line x1="688.58" y1="703.10" x2="688.58" y2="711.10" class="ax"/>
<line x1="151.50" y1="1062.35" x2="159.50" y2="1062.35" class="ax"/>
<line x1="796.00" y1="1062.35" x2="788.00" y2="1062.35" class="ax"/>
<line x1="151.50" y1="942.60" x2="159.50" y2="942.60" class="ax"/>
<line x1="796.00" y1="942.60" x2="788.00" y2="942.60" class="ax"/>
<line x1="151.50" y1="822.85" x2="159.50" y2="822.85" class="ax"/>
<line x1="796.00" y1="822.85" x2="788.00" y2="822.85" class="ax"/>
<rect x="151.50" y="703.10" width="644.50" height="479.00" class="box"/>
<clipPath id="clipc"><rect x="149.50" y="701.60" width="648.50" height="482.00"/></clipPath>
<g clip-path="url(#clipc)">
<polyline points="147.75,1122.14 148.75,1121.71 149.75,1121.26 150.75,1120.81 151.75,1120.36 152.75,1119.90 153.75,1119.43 154.75,1118.96 155.75,1118.48 156.75,1118.00 157.75,1117.51 158.75,1117.01 159.75,1116.51 160.75,1116.00 161.75,1115.48 162.75,1114.96 163.75,1114.43 164.75,1113.90 165.75,1113.35 166.75,1112.80 167.75,1112.24 168.75,1111.68 169.75,1111.10 170.75,1110.52 171.75,1109.93 172.75,1109.33 173.75,1108.73 174.75,1108.11 175.75,1107.49 176.75,1106.86 177.75,1106.21 178.75,1105.56 179.75,1104.90 180.75,1104.23 181.75,1103.55 182.75,1102.86 183.75,1102.16 184.75,1101.44 185.75,1100.72 186.75,1099.99 187.75,1099.24 188.75,1098.48 189.75,1097.71 190.75,1096.93 191.75,1096.13 192.75,1095.32 193.75,1094.50 194.75,1093.66 195.75,1092.81 196.75,1091.95 197.75,1091.07 198.75,1090.17 199.75,1089.26 200.75,1088.33 201.75,1087.39 202.75,1086.43 203.75,1085.45 204.75,1084.45 205.75,1083.43 206.75,1082.40 207.75,1081.34 208.75,1080.27 209.75,1079.17 210.75,1078.05 211.75,1076.91 212.75,1075.75 213.75,1074.56 214.75,1073.34 215.75,1072.10 216.75,1070.84 217.75,1069.54 218.75,1068.22 219.75,1066.87 220.75,1065.49 221.75,1064.07 222.75,1062.62 223.75,1061.14 224.75,1059.63 225.75,1058.07 226.75,1056.48 227.75,1054.84 228.75,1053.17 229.75,1051.45 230.75,1049.69 231.75,1047.88 232.75,1046.01 233.75,1044.10 234.75,1042.13 235.75,1040.11 236.75,1038.03 237.75,1035.88 238.75,1033.67 239.75,1031.39 240.75,1029.04 241.75,1026.61 242.75,1024.10 243.75,1021.51 244.75,1018.82 245.75,1016.05 246.75,1013.17 247.75,1010.18 248.75,1007.09 249.75,1003.87 250.75,1000.53 251.75,997.05 252.75,993.43 253.75,989.66 254.75,985.72 255.75,981.60 256.75,977.30 257.75,972.80 258.75,968.08 259.75,963.12 260.75,957.92 261.75,952.44 262.75,946.68 263.75,940.59 264.75,934.17 265.75,927.38 266.75,920.19 267.75,912.56 268.75,904.47 269.75,895.88 270.75,886.74 271.75,877.02 272.75,866.67 273.75,855.67 274.75,843.97 275.75,831.56 276.75,818.43 277.75,804.62 278.75,790.21 279.75,775.33 280.75,760.24 281.75,745.33 282.75,731.20 283.75,718.70 284.75,709.01 285.75,707.41 286.75,707.41 287.75,713.23 288.75,731.77 289.75,760.89 290.75,800.16 291.75,847.53 292.75,899.65 293.75,952.51 294.75,1002.47 295.75,1046.84 296.75,1084.21 297.75,1114.26 298.75,1137.43 299.75,1154.57 300.75,1166.66 301.75,1174.66 302.75,1179.44 303.75,1181.70 304.75,1182.03 305.75,1180.89 306.75,1178.64 307.75,1175.55 308.75,1171.85 309.75,1167.69 310.75,1163.20 311.75,1158.47 312.75,1153.57 313.75,1148.55 314.75,1143.45 315.75,1138.30 316.75,1133.12 317.75,1127.93 318.75,1122.74 319.75,1117.55 320.75,1112.36 321.75,1107.19 322.75,1102.02 323.75,1096.86 324.75,1091.71 325.75,1086.56 326.75,1081.41 327.75,1076.25 328.75,1071.09 329.75,1065.91 330.75,1060.72 331.75,1055.50 332.75,1050.26 333.75,1044.99 334.75,1039.68 335.75,1034.33 336.75,1028.94 337.75,1023.49 338.75,1018.00 339.75,1012.44 340.75,1006.82 341.75,1001.13 342.75,995.37 343.75,989.53 344.75,983.61 345.75,977.60 346.75,971.50 347.75,965.30 348.75,959.01 349.75,952.61 350.75,946.11 351.75,939.49 352.75,932.76 353.75,925.92 354.75,918.95 355.75,911.86 356.75,904.65 357.75,897.32 358.75,889.86 359.75,882.27 360.75,874.57 361.75,866.74 362.75,858.80 363.75,850.74 364.75,842.59 365.75,834.34 366.75,826.01 367.75,817.62 368.75,809.17 369.75,800.71 370.75,792.24 371.75,783.81 372.75,775.44 373.75,767.19 374.75,759.09 375.75,751.21 376.75,743.62 377.75,736.37 378.75,729.57 379.75,723.29 380.75,717.64 381.75,712.74 382.75,708.70 383.75,705.65 384.75,703.74 385.75,703.10 386.75,703.88 387.75,706.21 388.75,710.24 389.75,716.08 390.75,723.84 391.75,733.59 392.75,745.38 393.75,759.21 394.75,775.04 395.75,792.78 396.75,812.28 397.75,833.36 398.75,855.78 399.75,879.25 400.75,903.47 401.75,928.11 402.75,952.84 403.75,977.31 404.75,1001.21 405.75,1024.26 406.75,1046.19 407.75,1066.78 408.75,1085.88 409.75,1103.33 410.75,1119.04 411.75,1132.97 412.75,1145.09 413.75,1155.40 414.75,1163.94 415.75,1170.75 416.75,1175.90 417.75,1179.46 418.75,1181.50 419.75,1182.10 420.75,1181.34 421.75,1179.31 422.75,1176.08 423.75,1171.72 424.75,1166.30 425.75,1159.87 426.75,1152.51 427.75,1144.26 428.75,1135.16 429.75,1125.26 430.75,1114.59 431.75,1103.18 432.75,1091.06 433.75,1078.25 434.75,1064.76 435.75,1050.61 436.75,1035.80 437.75,1020.33 438.75,1004.20 439.75,987.39 440.75,969.89 441.75,951.67 442.75,932.69 443.75,912.89 444.75,892.22 445.75,870.59 446.75,847.90 447.75,824.06 448.75,798.99 452.60,706.45 456.10,1169.50 457.90,1119.83 458.75,1069.88 459.75,994.59 460.75,935.05 461.75,888.38 462.75,851.10 463.75,820.68 464.75,795.45 465.75,774.34 466.75,756.63 467.75,741.86 468.75,729.72 469.75,720.00 470.75,712.55 471.75,707.28 472.75,704.14 473.75,703.10 474.75,704.14 475.75,707.28 476.75,712.55 477.75,720.00 478.75,729.72 479.75,741.86 480.75,756.63 481.75,774.34 482.75,795.45 483.75,820.68 484.75,851.10 485.75,888.38 486.75,935.05 487.75,994.59 488.75,1069.88 489.60,1119.83 491.40,1169.50 494.90,706.45 498.75,798.99 499.75,824.06 500.75,847.90 501.75,870.59 502.75,892.22 503.75,912.89 504.75,932.69 505.75,951.67 506.75,969.89 507.75,987.39 508.75,1004.20 509.75,1020.33 510.75,1035.80 511.75,1050.61 512.75,1064.76 513.75,1078.25 514.75,1091.06 515.75,1103.18 516.75,1114.59 517.75,1125.26 518.75,1135.16 519.75,1144.26 520.75,1152.51 521.75,1159.87 522.75,1166.30 523.75,1171.72 524.75,1176.08 525.75,1179.31 526.75,1181.34 527.75,1182.10 528.75,1181.50 529.75,1179.46 530.75,1175.90 531.75,1170.75 532.75,1163.94 533.75,1155.40 534.75,1145.09 535.75,1132.97 536.75,1119.04 537.75,1103.33 538.75,1085.88 539.75,1066.78 540.75,1046.19 541.75,1024.26 542.75,1001.21 543.75,977.31 544.75,952.84 545.75,928.11 546.75,903.47 547.75,879.25 548.75,855.78 549.75,833.36 550.75,812.28 551.75,792.78 552.75,775.04 553.75,759.21 554.75,745.38 555.75,733.59 556.75,723.84 557.75,716.08 558.75,710.24 559.75,706.21 560.75,703.88 561.75,703.10 562.75,703.74 563.75,705.65 564.75,708.70 565.75,712.74 566.75,717.64 567.75,723.29 568.75,729.57 569.75,736.37 570.75,743.62 571.75,751.21 572.75,759.09 573.75,767.19 574.75,775.44 575.75,783.81 576.75,792.24 577.75,800.71 578.75,809.17 579.75,817.62 580.75,826.01 581.75,834.34 582.75,842.59 583.75,850.74 584.75,858.80 585.75,866.74 586.75,874.57 587.75,882.27 588.75,889.86 589.75,897.32 590.75,904.65 591.75,911.86 592.75,918.95 593.75,925.92 594.75,932.76 595.75,939.49 596.75,946.11 597.75,952.61 598.75,959.01 599.75,965.30 600.75,971.50 601.75,977.60 602.75,983.61 603.75,989.53 604.75,995.37 605.75,1001.13 606.75,1006.82 607.75,1012.44 608.75,1018.00 609.75,1023.49 610.75,1028.94 611.75,1034.33 612.75,1039.68 613.75,1044.99 614.75,1050.26 615.75,1055.50 616.75,1060.72 617.75,1065.91 618.75,1071.09 619.75,1076.25 620.75,1081.41 621.75,1086.56 622.75,1091.71 623.75,1096.86 624.75,1102.02 625.75,1107.19 626.75,1112.36 627.75,1117.55 628.75,1122.74 629.75,1127.93 630.75,1133.12 631.75,1138.30 632.75,1143.45 633.75,1148.55 634.75,1153.57 635.75,1158.47 636.75,1163.20 637.75,1167.69 638.75,1171.85 639.75,1175.55 640.75,1178.64 641.75,1180.89 642.75,1182.03 643.75,1181.70 644.75,1179.44 645.75,1174.66 646.75,1166.66 647.75,1154.57 648.75,1137.43 649.75,1114.26 650.75,1084.21 651.75,1046.84 652.75,1002.47 653.75,952.51 654.75,899.65 655.75,847.53 656.75,800.16 657.75,760.89 658.75,731.77 659.75,713.23 660.75,707.41 661.75,707.41 662.75,709.01 663.75,718.70 664.75,731.20 665.75,745.33 666.75,760.24 667.75,775.33 668.75,790.21 669.75,804.62 670.75,818.43 671.75,831.56 672.75,843.97 673.75,855.67 674.75,866.67 675.75,877.02 676.75,886.74 677.75,895.88 678.75,904.47 679.75,912.56 680.75,920.19 681.75,927.38 682.75,934.17 683.75,940.59 684.75,946.68 685.75,952.44 686.75,957.92 687.75,963.12 688.75,968.08 689.75,972.80 690.75,977.30 691.75,981.60 692.75,985.72 693.75,989.66 694.75,993.43 695.75,997.05 696.75,1000.53 697.75,1003.87 698.75,1007.09 699.75,1010.18 700.75,1013.17 701.75,1016.05 702.75,1018.82 703.75,1021.51 704.75,1024.10 705.75,1026.61 706.75,1029.04 707.75,1031.39 708.75,1033.67 709.75,1035.88 710.75,1038.03 711.75,1040.11 712.75,1042.13 713.75,1044.10 714.75,1046.01 715.75,1047.88 716.75,1049.69 717.75,1051.45 718.75,1053.17 719.75,1054.84 720.75,1056.48 721.75,1058.07 722.75,1059.63 723.75,1061.14 724.75,1062.62 725.75,1064.07 726.75,1065.49 727.75,1066.87 728.75,1068.22 729.75,1069.54 730.75,1070.84 731.75,1072.10 732.75,1073.34 733.75,1074.56 734.75,1075.75 735.75,1076.91 736.75,1078.05 737.75,1079.17 738.75,1080.27 739.75,1081.34 740.75,1082.40 741.75,1083.43 742.75,1084.45 743.75,1085.45 744.75,1086.43 745.75,1087.39 746.75,1088.33 747.75,1089.26 748.75,1090.17 749.75,1091.07 750.75,1091.95 751.75,1092.81 752.75,1093.66 753.75,1094.50 754.75,1095.32 755.75,1096.13 756.75,1096.93 757.75,1097.71 758.75,1098.48 759.75,1099.24 760.75,1099.99 761.75,1100.72 762.75,1101.44 763.75,1102.16 764.75,1102.86 765.75,1103.55 766.75,1104.23 767.75,1104.90 768.75,1105.56 769.75,1106.21 770.75,1106.86 771.75,1107.49 772.75,1108.11 773.75,1108.73 774.75,1109.33 775.75,1109.93 776.75,1110.52 777.75,1111.10 778.75,1111.68 779.75,1112.24 780.75,1112.80 781.75,1113.35 782.75,1113.90 783.75,1114.43 784.75,1114.96 785.75,1115.48 786.75,1116.00 787.75,1116.51 788.75,1117.01 789.75,1117.51 790.75,1118.00 791.75,1118.48 792.75,1118.96 793.75,1119.43 794.75,1119.90 795.75,1120.36 796.75,1120.81 797.75,1121.26 798.75,1121.71 799.75,1122.14" class="curve"/>
<polygon points="458.10,1169.50 454.10,1169.50 455.60,1178.03" class="nib"/>
<polygon points="489.40,1169.50 493.40,1169.50 491.90,1178.03" class="nib"/>
</g>
<text x="258.92" y="1246.40" class="tk" text-anchor="middle">-2</text>
<text x="473.75" y="1246.40" class="tk" text-anchor="middle">0</text>
<text x="688.58" y="1246.40" class="tk" text-anchor="middle">2</text>
<text x="132.90" y="1201.60" class="tk" text-anchor="end">0</text>
<text x="132.90" y="1081.45" class="tk" text-anchor="end">0.5</text>
<text x="132.90" y="961.30" class="tk" text-anchor="end">1</text>
<text x="132.90" y="841.15" class="tk" text-anchor="end">1.5</text>
<text x="132.90" y="721.00" class="tk" text-anchor="end">2</text>
<text x="193.90" y="756.70" class="pl">(c)</text>
<text x="425.95" y="1303.50" class="mi">x</text>
<text transform="translate(455.15,1314.60) skewX(-7) scale(1,1.476)" class="mr">/</text>
<text x="479.25" y="1303.50" class="mi">k</text>
<text x="503.75" y="1310.50" class="mr" style="font-size:35.5px">4</text>
<g transform="translate(39.00,942.60) rotate(-90)"><text transform="translate(-74,0) scale(1.11,1)" class="mi">R</text><text transform="translate(-35.7,0) scale(0.9,1)" class="mi" style="font-size:50.5px">e</text><text transform="translate(-12.5,1.5) scale(1,1.15)" class="mr">(</text><text x="6.5" y="0" class="mi" style="font-size:50px">ε</text><text transform="translate(28.5,8) scale(1.17,1.03)" class="mi" style="font-size:37px">T</text><text transform="translate(58,1.5) scale(1,1.15)" class="mr">)</text></g>
</g>
<g id="panel-d">
<line x1="1107.90" y1="703.10" x2="1107.90" y2="1182.10" class="grid"/>
<line x1="1323.90" y1="703.10" x2="1323.90" y2="1182.10" class="grid"/>
<line x1="1539.90" y1="703.10" x2="1539.90" y2="1182.10" class="grid"/>
<line x1="999.90" y1="1062.35" x2="1647.90" y2="1062.35" class="grid"/>
<line x1="999.90" y1="942.60" x2="1647.90" y2="942.60" class="grid"/>
<line x1="999.90" y1="822.85" x2="1647.90" y2="822.85" class="grid"/>
<line x1="1107.90" y1="1182.10" x2="1107.90" y2="1174.10" class="ax"/>
<line x1="1107.90" y1="703.10" x2="1107.90" y2="711.10" class="ax"/>
<line x1="1323.90" y1="1182.10" x2="1323.90" y2="1174.10" class="ax"/>
<line x1="1323.90" y1="703.10" x2="1323.90" y2="711.10" class="ax"/>
<line x1="1539.90" y1="1182.10" x2="1539.90" y2="1174.10" class="ax"/>
<line x1="1539.90" y1="703.10" x2="1539.90" y2="711.10" class="ax"/>
<line x1="999.90" y1="1062.35" x2="1007.90" y2="1062.35" class="ax"/>
<line x1="1647.90" y1="1062.35" x2="1639.90" y2="1062.35" class="ax"/>
<line x1="999.90" y1="942.60" x2="1007.90" y2="942.60" class="ax"/>
<line x1="1647.90" y1="942.60" x2="1639.90" y2="942.60" class="ax"/>
<line x1="999.90" y1="822.85" x2="1007.90" y2="822.85" class="ax"/>
<line x1="1647.90" y1="822.85" x2="1639.90" y2="822.85" class="ax"/>
<rect x="999.90" y="703.10" width="648.00" height="479.00" class="box"/>
<clipPath id="clipd"><rect x="997.90" y="701.60" width="652.00" height="482.00"/></clipPath>
<g clip-path="url(#clipd)">
<polyline points="995.90,1119.43 996.90,1118.95 997.90,1118.47 998.90,1117.98 999.90,1117.49 1000.90,1116.98 1001.90,1116.48 1002.90,1115.96 1003.90,1115.44 1004.90,1114.91 1005.90,1114.38 1006.90,1113.84 1007.90,1113.29 1008.90,1112.73 1009.90,1112.17 1010.90,1111.59 1011.90,1111.01 1012.90,1110.43 1013.90,1109.83 1014.90,1109.23 1015.90,1108.61 1016.90,1107.99 1017.90,1107.36 1018.90,1106.72 1019.90,1106.08 1020.90,1105.42 1021.90,1104.75 1022.90,1104.07 1023.90,1103.39 1024.90,1102.69 1025.90,1101.98 1026.90,1101.26 1027.90,1100.53 1028.90,1099.79 1029.90,1099.04 1030.90,1098.28 1031.90,1097.50 1032.90,1096.71 1033.90,1095.91 1034.90,1095.10 1035.90,1094.27 1036.90,1093.43 1037.90,1092.58 1038.90,1091.71 1039.90,1090.82 1040.90,1089.92 1041.90,1089.01 1042.90,1088.08 1043.90,1087.13 1044.90,1086.17 1045.90,1085.19 1046.90,1084.19 1047.90,1083.18 1048.90,1082.14 1049.90,1081.09 1050.90,1080.02 1051.90,1078.92 1052.90,1077.81 1053.90,1076.67 1054.90,1075.51 1055.90,1074.33 1056.90,1073.13 1057.90,1071.90 1058.90,1070.65 1059.90,1069.37 1060.90,1068.06 1061.90,1066.73 1062.90,1065.37 1063.90,1063.98 1064.90,1062.56 1065.90,1061.10 1066.90,1059.62 1067.90,1058.10 1068.90,1056.55 1069.90,1054.96 1070.90,1053.33 1071.90,1051.66 1072.90,1049.96 1073.90,1048.21 1074.90,1046.42 1075.90,1044.58 1076.90,1042.69 1077.90,1040.76 1078.90,1038.78 1079.90,1036.74 1080.90,1034.65 1081.90,1032.50 1082.90,1030.29 1083.90,1028.01 1084.90,1025.67 1085.90,1023.26 1086.90,1020.78 1087.90,1018.22 1088.90,1015.58 1089.90,1012.86 1090.90,1010.05 1091.90,1007.15 1092.90,1004.15 1093.90,1001.05 1094.90,997.85 1095.90,994.52 1096.90,991.08 1097.90,987.51 1098.90,983.81 1099.90,979.96 1100.90,975.97 1101.90,971.81 1102.90,967.48 1103.90,962.98 1104.90,958.28 1105.90,953.38 1106.90,948.25 1107.90,942.90 1108.90,937.30 1109.90,931.44 1110.90,925.29 1111.90,918.84 1112.90,912.07 1113.90,904.96 1114.90,897.49 1115.90,889.62 1116.90,881.35 1117.90,872.64 1118.90,863.47 1119.90,853.82 1120.90,843.68 1121.90,833.04 1122.90,821.89 1123.90,810.25 1124.90,798.16 1125.90,785.69 1126.90,772.93 1127.90,760.08 1128.90,747.36 1129.90,735.14 1130.90,723.89 1131.90,714.26 1132.90,707.09 1133.90,705.97 1134.90,705.97 1135.90,711.07 1136.90,724.85 1137.90,746.41 1138.90,775.94 1139.90,812.75 1140.90,855.30 1141.90,901.27 1142.90,948.00 1143.90,992.97 1144.90,1034.15 1145.90,1070.20 1146.90,1100.52 1147.90,1125.09 1148.90,1144.29 1149.90,1158.71 1150.90,1169.03 1151.90,1175.93 1152.90,1180.03 1153.90,1181.88 1154.90,1181.92 1155.90,1180.54 1156.90,1178.04 1157.90,1174.66 1158.90,1170.59 1159.90,1166.00 1160.90,1161.00 1161.90,1155.67 1162.90,1150.11 1163.90,1144.36 1164.90,1138.46 1165.90,1132.45 1166.90,1126.36 1167.90,1120.20 1168.90,1113.99 1169.90,1107.73 1170.90,1101.43 1171.90,1095.09 1172.90,1088.73 1173.90,1082.33 1174.90,1075.89 1175.90,1069.42 1176.90,1062.92 1177.90,1056.37 1178.90,1049.77 1179.90,1043.12 1180.90,1036.43 1181.90,1029.67 1182.90,1022.85 1183.90,1015.96 1184.90,1009.00 1185.90,1001.96 1186.90,994.85 1187.90,987.65 1188.90,980.36 1189.90,972.98 1190.90,965.51 1191.90,957.94 1192.90,950.26 1193.90,942.49 1194.90,934.61 1195.90,926.63 1196.90,918.55 1197.90,910.37 1198.90,902.08 1199.90,893.70 1200.90,885.22 1201.90,876.66 1202.90,868.02 1203.90,859.31 1204.90,850.54 1205.90,841.73 1206.90,832.88 1207.90,824.03 1208.90,815.18 1209.90,806.37 1210.90,797.62 1211.90,788.96 1212.90,780.42 1213.90,772.06 1214.90,763.90 1215.90,756.00 1216.90,748.40 1217.90,741.16 1218.90,734.35 1219.90,728.02 1220.90,722.24 1221.90,717.09 1222.90,712.63 1223.90,708.93 1224.90,706.08 1225.90,704.14 1226.90,703.19 1227.90,703.29 1228.90,704.50 1229.90,706.88 1230.90,710.47 1231.90,715.30 1232.90,721.40 1233.90,728.77 1234.90,737.41 1235.90,747.29 1236.90,758.37 1237.90,770.60 1238.90,783.91 1239.90,798.21 1240.90,813.40 1241.90,829.38 1242.90,846.03 1243.90,863.22 1244.90,880.83 1245.90,898.73 1246.90,916.80 1247.90,934.90 1248.90,952.92 1249.90,970.74 1250.90,988.27 1251.90,1005.41 1252.90,1022.06 1253.90,1038.15 1254.90,1053.62 1255.90,1068.39 1256.90,1082.42 1257.90,1095.66 1258.90,1108.08 1259.90,1119.64 1260.90,1130.31 1261.90,1140.06 1262.90,1148.87 1263.90,1156.72 1264.90,1163.57 1265.90,1169.41 1266.90,1174.19 1267.90,1177.89 1268.90,1180.46 1269.90,1181.85 1270.90,1182.01 1271.90,1180.85 1272.90,1178.31 1273.90,1174.27 1274.90,1168.62 1275.90,1161.23 1276.90,1151.94 1277.90,1140.59 1278.90,1126.97 1279.90,1110.88 1280.90,1092.11 1281.90,1070.45 1282.90,1045.71 1283.90,1017.77 1284.90,986.63 1285.90,952.45 1286.90,915.66 1287.90,877.05 1288.90,837.83 1289.90,799.72 1290.90,764.90 1291.90,735.82 1292.90,714.93 1293.90,705.97 1294.90,705.97 1295.90,717.08 1296.90,739.74 1297.90,771.08 1298.90,808.86 1299.90,850.84 1300.90,895.07 1301.90,940.13 1302.90,985.18 1303.90,1030.01 1306.65,1172.59" class="curve"/>
<polyline points="1306.65,1172.59 1308.60,726.09" class="curve"/>
<polyline points="1308.60,726.09 1311.90,987.97 1312.90,1043.39 1313.90,1079.96 1314.90,1106.18 1315.90,1125.95 1316.90,1141.28 1317.90,1153.31 1318.90,1162.74 1319.90,1170.01 1320.90,1175.43 1321.90,1179.17 1322.90,1181.37 1323.90,1182.10 1324.90,1181.37 1325.90,1179.17 1326.90,1175.43 1327.90,1170.01 1328.90,1162.74 1329.90,1153.31 1330.90,1141.28 1331.90,1125.95 1332.90,1106.18 1333.90,1079.96 1334.90,1043.39 1335.90,987.97 1339.20,726.09" class="curve"/>
<polyline points="1339.20,726.09 1341.15,1172.59" class="curve"/>
<polyline points="1341.15,1172.59 1343.90,1030.01 1344.90,985.18 1345.90,940.13 1346.90,895.07 1347.90,850.84 1348.90,808.86 1349.90,771.08 1350.90,739.74 1351.90,717.08 1352.90,705.97 1353.90,705.97 1354.90,714.93 1355.90,735.82 1356.90,764.90 1357.90,799.72 1358.90,837.83 1359.90,877.05 1360.90,915.66 1361.90,952.45 1362.90,986.63 1363.90,1017.77 1364.90,1045.71 1365.90,1070.45 1366.90,1092.11 1367.90,1110.88 1368.90,1126.97 1369.90,1140.59 1370.90,1151.94 1371.90,1161.23 1372.90,1168.62 1373.90,1174.27 1374.90,1178.31 1375.90,1180.85 1376.90,1182.01 1377.90,1181.85 1378.90,1180.46 1379.90,1177.89 1380.90,1174.19 1381.90,1169.41 1382.90,1163.57 1383.90,1156.72 1384.90,1148.87 1385.90,1140.06 1386.90,1130.31 1387.90,1119.64 1388.90,1108.08 1389.90,1095.66 1390.90,1082.42 1391.90,1068.39 1392.90,1053.62 1393.90,1038.15 1394.90,1022.06 1395.90,1005.41 1396.90,988.27 1397.90,970.74 1398.90,952.92 1399.90,934.90 1400.90,916.80 1401.90,898.73 1402.90,880.83 1403.90,863.22 1404.90,846.03 1405.90,829.38 1406.90,813.40 1407.90,798.21 1408.90,783.91 1409.90,770.60 1410.90,758.37 1411.90,747.29 1412.90,737.41 1413.90,728.77 1414.90,721.40 1415.90,715.30 1416.90,710.47 1417.90,706.88 1418.90,704.50 1419.90,703.29 1420.90,703.19 1421.90,704.14 1422.90,706.08 1423.90,708.93 1424.90,712.63 1425.90,717.09 1426.90,722.24 1427.90,728.02 1428.90,734.35 1429.90,741.16 1430.90,748.40 1431.90,756.00 1432.90,763.90 1433.90,772.06 1434.90,780.42 1435.90,788.96 1436.90,797.62 1437.90,806.37 1438.90,815.18 1439.90,824.03 1440.90,832.88 1441.90,841.73 1442.90,850.54 1443.90,859.31 1444.90,868.02 1445.90,876.66 1446.90,885.22 1447.90,893.70 1448.90,902.08 1449.90,910.37 1450.90,918.55 1451.90,926.63 1452.90,934.61 1453.90,942.49 1454.90,950.26 1455.90,957.94 1456.90,965.51 1457.90,972.98 1458.90,980.36 1459.90,987.65 1460.90,994.85 1461.90,1001.96 1462.90,1009.00 1463.90,1015.96 1464.90,1022.85 1465.90,1029.67 1466.90,1036.43 1467.90,1043.12 1468.90,1049.77 1469.90,1056.37 1470.90,1062.92 1471.90,1069.42 1472.90,1075.89 1473.90,1082.33 1474.90,1088.73 1475.90,1095.09 1476.90,1101.43 1477.90,1107.73 1478.90,1113.99 1479.90,1120.20 1480.90,1126.36 1481.90,1132.45 1482.90,1138.46 1483.90,1144.36 1484.90,1150.11 1485.90,1155.67 1486.90,1161.00 1487.90,1166.00 1488.90,1170.59 1489.90,1174.66 1490.90,1178.04 1491.90,1180.54 1492.90,1181.92 1493.90,1181.88 1494.90,1180.03 1495.90,1175.93 1496.90,1169.03 1497.90,1158.71 1498.90,1144.29 1499.90,1125.09 1500.90,1100.52 1501.90,1070.20 1502.90,1034.15 1503.90,992.97 1504.90,948.00 1505.90,901.27 1506.90,855.30 1507.90,812.75 1508.90,775.94 1509.90,746.41 1510.90,724.85 1511.90,711.07 1512.90,705.97 1513.90,705.97 1514.90,707.09 1515.90,714.26 1516.90,723.89 1517.90,735.14 1518.90,747.36 1519.90,760.08 1520.90,772.93 1521.90,785.69 1522.90,798.16 1523.90,810.25 1524.90,821.89 1525.90,833.04 1526.90,843.68 1527.90,853.82 1528.90,863.47 1529.90,872.64 1530.90,881.35 1531.90,889.62 1532.90,897.49 1533.90,904.96 1534.90,912.07 1535.90,918.84 1536.90,925.29 1537.90,931.44 1538.90,937.30 1539.90,942.90 1540.90,948.25 1541.90,953.38 1542.90,958.28 1543.90,962.98 1544.90,967.48 1545.90,971.81 1546.90,975.97 1547.90,979.96 1548.90,983.81 1549.90,987.51 1550.90,991.08 1551.90,994.52 1552.90,997.85 1553.90,1001.05 1554.90,1004.15 1555.90,1007.15 1556.90,1010.05 1557.90,1012.86 1558.90,1015.58 1559.90,1018.22 1560.90,1020.78 1561.90,1023.26 1562.90,1025.67 1563.90,1028.01 1564.90,1030.29 1565.90,1032.50 1566.90,1034.65 1567.90,1036.74 1568.90,1038.78 1569.90,1040.76 1570.90,1042.69 1571.90,1044.58 1572.90,1046.42 1573.90,1048.21 1574.90,1049.96 1575.90,1051.66 1576.90,1053.33 1577.90,1054.96 1578.90,1056.55 1579.90,1058.10 1580.90,1059.62 1581.90,1061.10 1582.90,1062.56 1583.90,1063.98 1584.90,1065.37 1585.90,1066.73 1586.90,1068.06 1587.90,1069.37 1588.90,1070.65 1589.90,1071.90 1590.90,1073.13 1591.90,1074.33 1592.90,1075.51 1593.90,1076.67 1594.90,1077.81 1595.90,1078.92 1596.90,1080.02 1597.90,1081.09 1598.90,1082.14 1599.90,1083.18 1600.90,1084.19 1601.90,1085.19 1602.90,1086.17 1603.90,1087.13 1604.90,1088.08 1605.90,1089.01 1606.90,1089.92 1607.90,1090.82 1608.90,1091.71 1609.90,1092.58 1610.90,1093.43 1611.90,1094.27 1612.90,1095.10 1613.90,1095.91 1614.90,1096.71 1615.90,1097.50 1616.90,1098.28 1617.90,1099.04 1618.90,1099.79 1619.90,1100.53 1620.90,1101.26 1621.90,1101.98 1622.90,1102.69 1623.90,1103.39 1624.90,1104.07 1625.90,1104.75 1626.90,1105.42 1627.90,1106.08 1628.90,1106.72 1629.90,1107.36 1630.90,1107.99 1631.90,1108.61 1632.90,1109.23 1633.90,1109.83 1634.90,1110.43 1635.90,1111.01 1636.90,1111.59 1637.90,1112.17 1638.90,1112.73 1639.90,1113.29 1640.90,1113.84 1641.90,1114.38 1642.90,1114.91 1643.90,1115.44 1644.90,1115.96 1645.90,1116.48 1646.90,1116.98 1647.90,1117.49 1648.90,1117.98 1649.90,1118.47 1650.90,1118.95 1651.90,1119.43" class="curve"/>
</g>
<text x="1107.90" y="1246.40" class="tk" text-anchor="middle">-2</text>
<text x="1323.90" y="1246.40" class="tk" text-anchor="middle">0</text>
<text x="1539.90" y="1246.40" class="tk" text-anchor="middle">2</text>
<text x="981.30" y="1201.60" class="tk" text-anchor="end">0</text>
<text x="981.30" y="1081.45" class="tk" text-anchor="end">0.5</text>
<text x="981.30" y="961.30" class="tk" text-anchor="end">1</text>
<text x="981.30" y="841.15" class="tk" text-anchor="end">1.5</text>
<text x="981.30" y="721.00" class="tk" text-anchor="end">2</text>
<text x="1042.30" y="756.70" class="pl">(d)</text>
<text x="1276.10" y="1303.50" class="mi">x</text>
<text transform="translate(1305.30,1314.60) skewX(-7) scale(1,1.476)" class="mr">/</text>
<text x="1329.40" y="1303.50" class="mi">k</text>
<text x="1353.90" y="1310.50" class="mr" style="font-size:35.5px">4</text>
<g transform="translate(887.40,942.60) rotate(-90)"><text transform="translate(-74,0) scale(1.11,1)" class="mi">R</text><text transform="translate(-35.7,0) scale(0.9,1)" class="mi" style="font-size:50.5px">e</text><text transform="translate(-12.5,1.5) scale(1,1.15)" class="mr">(</text><text x="6.5" y="0" class="mi" style="font-size:50px">ε</text><text transform="translate(28.5,8) scale(1.17,1.03)" class="mi" style="font-size:37px">T</text><text transform="translate(58,1.5) scale(1,1.15)" class="mr">)</text></g>
</g>
</svg></body></html>
